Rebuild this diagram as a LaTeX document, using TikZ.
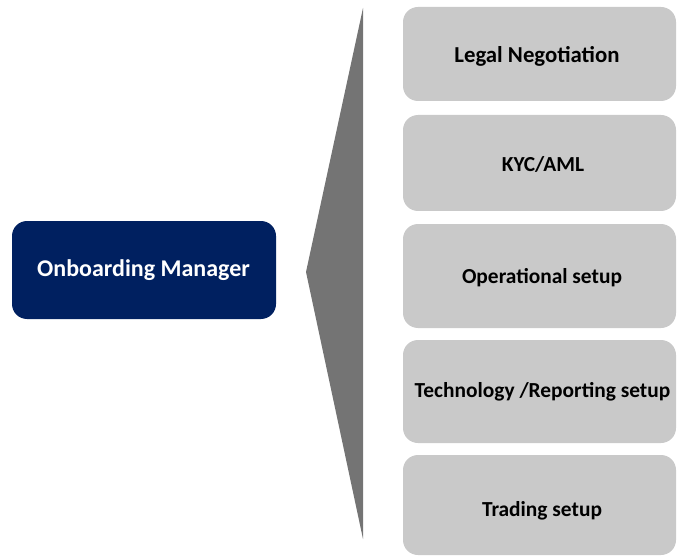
\documentclass[tikz,border=0pt]{standalone}
\usepackage{fontspec}
\setmainfont{Carlito}
\definecolor{navy}{HTML}{002060}
\definecolor{boxgray}{HTML}{C9C9C9}
\definecolor{wedge}{HTML}{747474}
\begin{document}
\begin{tikzpicture}[x=1pt,y=-1pt,
  taskbox/.style={fill=boxgray, draw=none, rounded corners=15pt},
  tasklabel/.style={font=\bfseries\fontsize{21.4}{25}\selectfont, text=black},
  mgrbox/.style={fill=navy, draw=none, rounded corners=15pt},
  mgrlabel/.style={font=\bfseries\fontsize{24}{28}\selectfont, text=white}]
\useasboundingbox (0,0) rectangle (677,556);
% manager
\fill[mgrbox] (12,221) rectangle (276,319);
\node[mgrlabel] (mgr) at (143.5,270) {Onboarding Manager};
% wedge
\coordinate (wtop) at (363,8);
\coordinate (wtip) at (306,272);
\coordinate (wbot) at (363,539);
\fill[wedge] (wtop) -- (wtip) -- (wbot) -- cycle;
% task boxes
\fill[taskbox] (403,7) rectangle (676,101);
\node[tasklabel, font=\bfseries\fontsize{22.8}{26}\selectfont] (t1) at (537,56) {Legal Negotiation};
\fill[taskbox] (403,115) rectangle (676,211);
\node[tasklabel] (t2) at (543,164) {KYC/AML};
\fill[taskbox] (403,224) rectangle (676,328);
\node[tasklabel] (t3) at (542,278) {Operational setup};
\fill[taskbox] (403,340) rectangle (676,443);
\node[tasklabel] (t4) at (542.5,392) {Technology /Reporting setup};
\fill[taskbox] (403,455) rectangle (676,555);
\node[tasklabel] (t5) at (542,511) {Trading setup};
\end{tikzpicture}
\end{document}
